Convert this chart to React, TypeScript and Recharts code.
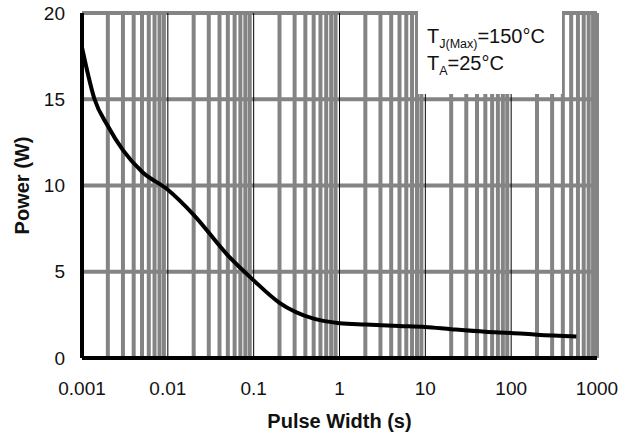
import React from 'react';
import { LineChart, Line, XAxis, YAxis, ReferenceLine } from 'recharts';

// (log x axis)
const pulseWidth = [0.001, 0.0014, 0.002, 0.003, 0.005, 0.01, 0.02, 0.05, 0.1, 0.2, 0.5, 1, 2, 5, 10, 20, 50, 100, 200, 575];
const power = [18, 15, 13.45, 12.05, 10.8, 9.75, 8.3, 5.95, 4.5, 3.2, 2.28, 2.02, 1.94, 1.86, 1.8, 1.67, 1.52, 1.45, 1.35, 1.25];

const xTicks = [0.001, 0.01, 0.1, 1, 10, 100, 1000];
const yTicks = [0, 5, 10, 15, 20];
const yGrid = [5, 10, 15, 20];
const innerDecades = [0.01, 0.1, 1, 10, 100];
const minorSteps = [2, 3, 4, 5, 6, 7, 8, 9];

const minorX = xTicks.slice(0, -1).flatMap((d) => minorSteps.map((m) => +(d * m).toPrecision(3)));
const grayX = [...minorX, 1000];

const data = pulseWidth.map((t, i) => ({ t, p: power[i] }));

const FONT = '"Liberation Sans", Arial, sans-serif';
const GRAY = '#848484';

const App: React.FC = () => {
  return (
    <div style={{ position: 'absolute', left: 0, top: 0, width: 625, height: 434, background: '#fff', fontFamily: FONT }}>
      <LineChart width={625} height={434} data={data} margin={{ top: 13, right: 28, bottom: 0, left: 0 }}>
        {/* log grid: gray minor lines, thin black decade lines */}
        {yGrid.map((v) => (
          <ReferenceLine key={'h' + v} y={v} stroke={GRAY} strokeWidth={4} />
        ))}
        {grayX.map((v) => (
          <ReferenceLine key={'v' + v} x={v} stroke={GRAY} strokeWidth={4} />
        ))}
        {innerDecades.map((d) => (
          <ReferenceLine key={'d' + d} x={d} stroke="#000" strokeWidth={1} />
        ))}
        <XAxis
          dataKey="t"
          type="number"
          scale="log"
          domain={[0.001, 1000]}
          ticks={xTicks}
          allowDataOverflow
          height={76}
          axisLine={{ stroke: '#000', strokeWidth: 4 }}
          tickLine={false}
          tickSize={0}
          tickMargin={24}
          tick={{ fill: '#111', fontSize: 19, fontFamily: FONT }}
          label={{ value: 'Pulse Width (s)', position: 'insideBottom', offset: 6, fill: '#111', fontSize: 20, fontWeight: 'bold', fontFamily: FONT }}
        />
        <YAxis
          type="number"
          domain={[0, 20]}
          ticks={yTicks}
          width={82}
          axisLine={{ stroke: '#000', strokeWidth: 4 }}
          tickLine={false}
          tickSize={0}
          tickMargin={17}
          tick={{ fill: '#111', fontSize: 19, fontFamily: FONT }}
          label={{ value: 'Power (W)', angle: -90, position: 'insideLeft', offset: 22, fill: '#111', fontSize: 20, fontWeight: 'bold', fontFamily: FONT, style: { textAnchor: 'middle' } }}
        />
        <Line
          type="monotone"
          dataKey="p"
          stroke="#000"
          strokeWidth={4}
          dot={false}
          isAnimationActive={false}
        />
      </LineChart>

      {/* conditions box */}
      <svg style={{ position: 'absolute', left: 418, top: 11, overflow: 'visible' }} width={144} height={83}>
        <rect x={0} y={0} width={144} height={83} fill="#fff" />
        <text x={9} y={32} fontSize={20} fontFamily={FONT} fill="#111">
          T<tspan fontSize={12.5} dy={5}>J(Max)</tspan>
          <tspan dy={-5}>=150°C</tspan>
        </text>
        <text x={9} y={59} fontSize={20} fontFamily={FONT} fill="#111">
          T<tspan fontSize={12.5} dy={5}>A</tspan>
          <tspan dy={-5}>=25°C</tspan>
        </text>
      </svg>
    </div>
  );
};

export default App;
